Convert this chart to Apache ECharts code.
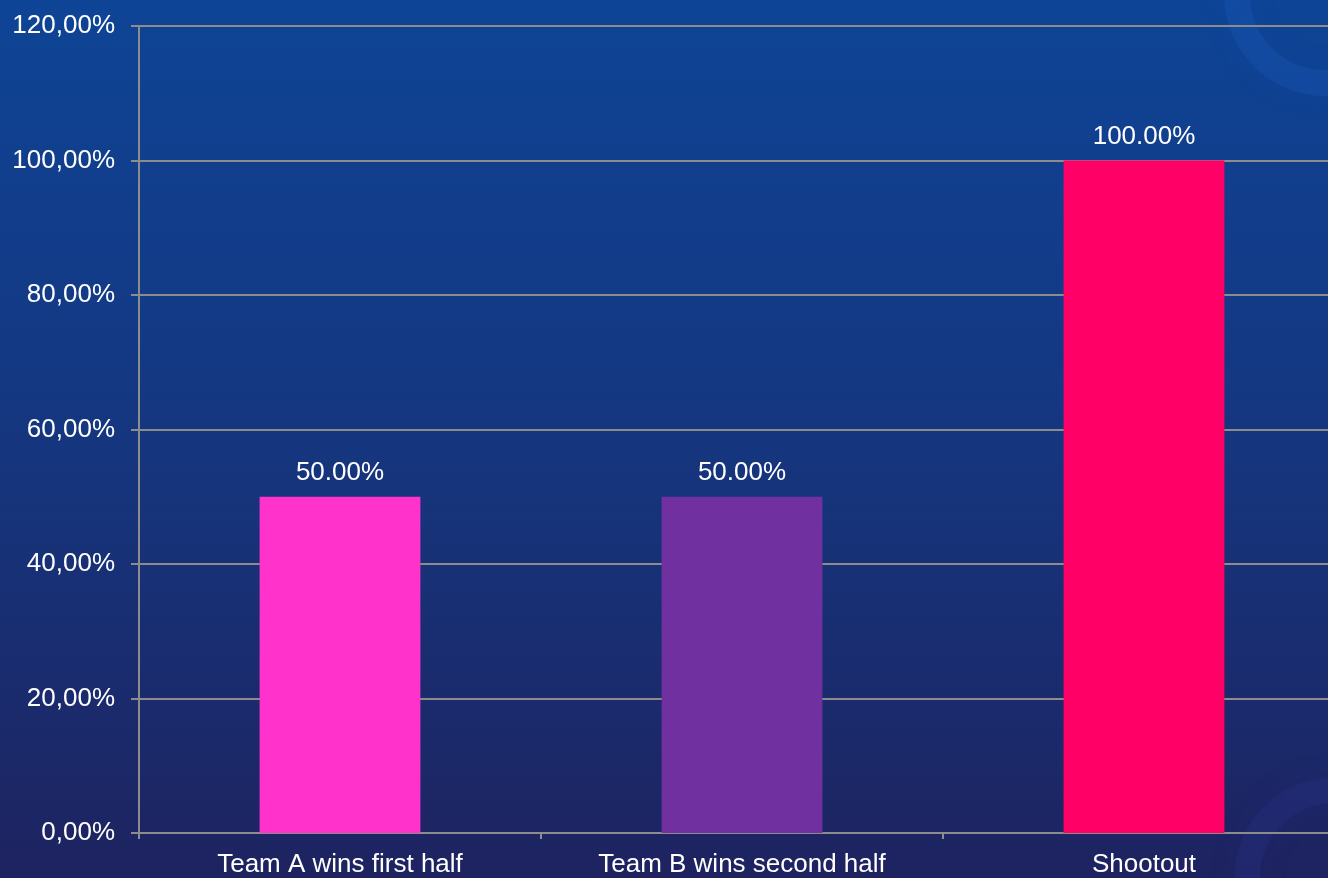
<!DOCTYPE html>
<html><head><meta charset="utf-8">
<script src="https://cdn.jsdelivr.net/npm/echarts@6/dist/echarts.min.js"></script>
<style>html,body{margin:0;padding:0;overflow:hidden;width:1328px;height:878px;background:#1e2360;}#c{width:1345px;height:878px;}</style>
</head><body><div id="c"></div>
<script>
const categories = ['Team A wins first half', 'Team B wins second half', 'Shootout'];
const values = [0.5, 0.5, 1.0];
const barColors = ['#ff33cc', '#7030a0', '#ff0066'];
const yMin = 0, yMax = 1.2, yStep = 0.2;

const chart = echarts.init(document.getElementById('c'));
const font = 'Liberation Sans, Arial, sans-serif';
chart.setOption({
  animation: false,
  backgroundColor: {type:'linear', x:0, y:0, x2:0, y2:1, colorStops:[
    {offset:0, color:'#0e4496'}, {offset:0.5, color:'#15367f'}, {offset:1, color:'#1e2360'}]},
  graphic: [
    {type:'circle', shape:{cx:1325, cy:-5, r:88}, style:{fill:'none', stroke:'rgba(30,100,200,0.22)', lineWidth:26, shadowBlur:30, shadowColor:'rgba(30,100,200,0.35)'}, z:-1, silent:true},
    {type:'circle', shape:{cx:1335, cy:878, r:88}, style:{fill:'none', stroke:'rgba(45,50,140,0.25)', lineWidth:26, shadowBlur:30, shadowColor:'rgba(45,50,140,0.35)'}, z:-1, silent:true}
  ],
  grid: {left:139, right:0, top:26, bottom:45, containLabel:false},
  xAxis: {
    type:'category', data: categories,
    axisLine:{lineStyle:{color:'#8c8c8c', width:2}},
    axisTick:{show:true, length:6, lineStyle:{color:'#8c8c8c', width:2}},
    axisLabel:{color:'#ffffff', fontSize:26, fontFamily:font, margin:19}
  },
  yAxis: {
    type:'value', min:yMin, max:yMax, interval:yStep,
    axisLine:{show:true, lineStyle:{color:'#8c8c8c', width:2}},
    axisTick:{show:true, length:8, lineStyle:{color:'#8c8c8c', width:2}},
    splitLine:{lineStyle:{color:'#8c8c8c', width:2}},
    axisLabel:{color:'#ffffff', fontSize:26, fontFamily:font, margin:24,
      formatter: v => (v*100).toFixed(2).replace('.', ',') + '%'}
  },
  series: [{
    type:'bar', barWidth:'40%',
    data: values.map((v,i)=>({value:v, itemStyle:{color:barColors[i]}})),
    label:{show:true, position:'top', distance:11, color:'#ffffff', fontSize:26, fontFamily:font,
      formatter: p => (p.value*100).toFixed(2) + '%'}
  }]
});
</script></body></html>
